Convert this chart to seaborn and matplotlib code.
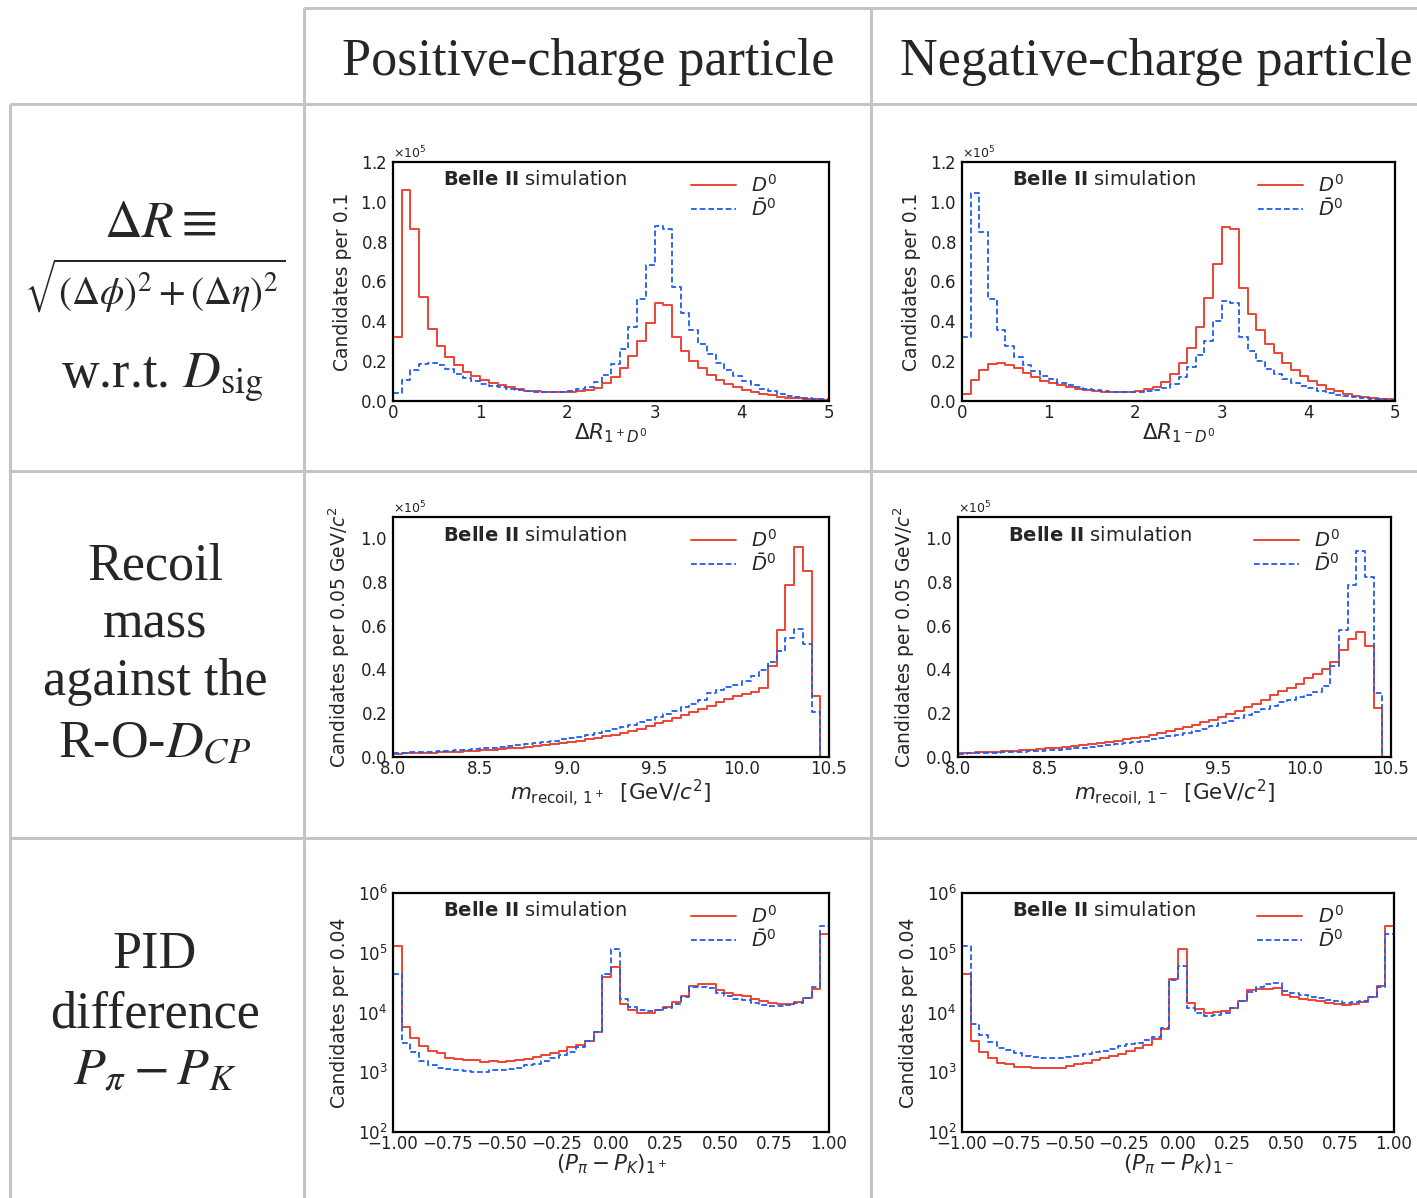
import numpy as np
import matplotlib
matplotlib.use("Agg")
import matplotlib.pyplot as plt
import seaborn as sns
from matplotlib.ticker import AutoMinorLocator, MultipleLocator, ScalarFormatter, LogLocator, NullFormatter

# ---------------- data ----------------
# Delta R (bins of 0.1 from 0 to 5), in units of 1e5 candidates
dr_range = (0.0, 5.0)
dr_pos_D0 = [0.32, 1.06, 0.865, 0.52, 0.36, 0.275, 0.22, 0.18, 0.145, 0.125,
             0.105, 0.09, 0.078, 0.068, 0.058, 0.052, 0.048, 0.045, 0.044, 0.045,
             0.047, 0.05, 0.055, 0.065, 0.09, 0.12, 0.165, 0.225, 0.30, 0.39,
             0.49, 0.48, 0.32, 0.25, 0.20, 0.165, 0.13, 0.105, 0.085, 0.07,
             0.055, 0.045, 0.035, 0.028, 0.022, 0.017, 0.013, 0.01, 0.008, 0.006]
dr_pos_D0bar = [0.04, 0.105, 0.155, 0.185, 0.19, 0.18, 0.16, 0.135, 0.115, 0.10,
                0.085, 0.075, 0.068, 0.06, 0.054, 0.05, 0.046, 0.044, 0.044, 0.046,
                0.05, 0.058, 0.07, 0.095, 0.13, 0.185, 0.26, 0.37, 0.51, 0.685,
                0.88, 0.865, 0.57, 0.44, 0.355, 0.285, 0.235, 0.19, 0.155, 0.125,
                0.10, 0.08, 0.062, 0.048, 0.036, 0.027, 0.02, 0.015, 0.011, 0.008]
dr_neg_D0 = [0.035, 0.105, 0.155, 0.185, 0.19, 0.18, 0.165, 0.14, 0.12, 0.10,
             0.09, 0.08, 0.07, 0.062, 0.056, 0.05, 0.047, 0.045, 0.044, 0.046,
             0.05, 0.058, 0.07, 0.095, 0.135, 0.19, 0.265, 0.37, 0.515, 0.69,
             0.875, 0.865, 0.565, 0.435, 0.355, 0.285, 0.24, 0.19, 0.155, 0.125,
             0.10, 0.08, 0.062, 0.048, 0.036, 0.027, 0.02, 0.015, 0.011, 0.008]
dr_neg_D0bar = [0.32, 1.045, 0.85, 0.51, 0.355, 0.275, 0.22, 0.18, 0.15, 0.125,
                0.11, 0.09, 0.078, 0.068, 0.058, 0.053, 0.048, 0.045, 0.044, 0.044,
                0.046, 0.05, 0.055, 0.065, 0.085, 0.12, 0.17, 0.23, 0.30, 0.40,
                0.50, 0.49, 0.32, 0.25, 0.20, 0.16, 0.135, 0.11, 0.09, 0.075,
                0.065, 0.05, 0.04, 0.032, 0.025, 0.02, 0.015, 0.011, 0.008, 0.006]

# Recoil mass (bins of 0.05 GeV/c^2 from 8.0 to 10.5), in units of 1e5
rec_range = (8.0, 10.5)
rec_pos_D0 = [0.015, 0.016, 0.017, 0.018, 0.019, 0.021, 0.022, 0.024, 0.026, 0.028,
              0.030, 0.033, 0.036, 0.039, 0.042, 0.046, 0.050, 0.054, 0.058, 0.063,
              0.068, 0.074, 0.080, 0.087, 0.094, 0.102, 0.111, 0.120, 0.130, 0.141,
              0.153, 0.165, 0.178, 0.190, 0.205, 0.220, 0.235, 0.250, 0.265, 0.278,
              0.288, 0.296, 0.317, 0.415, 0.580, 0.785, 0.960, 0.848, 0.278, 0.0]
rec_pos_D0bar = [0.018, 0.019, 0.021, 0.022, 0.024, 0.026, 0.028, 0.030, 0.033, 0.036,
                 0.039, 0.042, 0.046, 0.050, 0.054, 0.058, 0.063, 0.068, 0.074, 0.080,
                 0.086, 0.093, 0.100, 0.108, 0.117, 0.126, 0.136, 0.147, 0.159, 0.171,
                 0.184, 0.198, 0.212, 0.227, 0.243, 0.260, 0.290, 0.305, 0.318, 0.330,
                 0.345, 0.370, 0.397, 0.435, 0.486, 0.543, 0.583, 0.517, 0.207, 0.0]
rec_neg_D0 = [0.018, 0.019, 0.021, 0.022, 0.024, 0.026, 0.028, 0.030, 0.033, 0.036,
              0.039, 0.042, 0.046, 0.050, 0.054, 0.058, 0.063, 0.068, 0.074, 0.080,
              0.086, 0.093, 0.100, 0.108, 0.117, 0.126, 0.136, 0.147, 0.159, 0.171,
              0.184, 0.198, 0.212, 0.227, 0.243, 0.260, 0.285, 0.300, 0.315, 0.335,
              0.360, 0.380, 0.400, 0.435, 0.488, 0.540, 0.570, 0.505, 0.222, 0.0]
rec_neg_D0bar = [0.015, 0.016, 0.017, 0.018, 0.019, 0.021, 0.022, 0.024, 0.026, 0.028,
                 0.030, 0.033, 0.036, 0.039, 0.042, 0.046, 0.050, 0.054, 0.058, 0.063,
                 0.068, 0.074, 0.080, 0.087, 0.094, 0.102, 0.111, 0.120, 0.130, 0.141,
                 0.153, 0.165, 0.178, 0.190, 0.205, 0.220, 0.235, 0.250, 0.262, 0.272,
                 0.285, 0.295, 0.325, 0.417, 0.578, 0.787, 0.943, 0.824, 0.291, 0.0]

# PID difference (bins of 0.04 from -1 to 1), candidates
pid_range = (-1.0, 1.0)
pid_pos_D0 = [1.28e5, 5.7e3, 3.8e3, 2.8e3, 2.25e3, 2.08e3, 1.76e3, 1.69e3, 1.61e3, 1.6e3,
              1.5e3, 1.53e3, 1.49e3, 1.53e3, 1.6e3, 1.69e3, 1.78e3, 1.98e3, 2.14e3, 2.3e3,
              2.6e3, 2.85e3, 3.3e3, 4.7e3, 4.0e4, 5.7e4, 1.38e4, 1.1e4, 1.0e4, 1.0e4,
              1.1e4, 1.26e4, 1.49e4, 1.9e4, 2.76e4, 3.0e4, 3.0e4, 2.34e4, 2.1e4, 1.98e4,
              1.88e4, 1.7e4, 1.53e4, 1.42e4, 1.38e4, 1.4e4, 1.48e4, 1.75e4, 2.45e4, 2.05e5]
pid_pos_D0bar = [4.45e4, 3.1e3, 2.16e3, 1.57e3, 1.33e3, 1.17e3, 1.14e3, 1.08e3, 1.03e3, 1.0e3,
                 1.0e3, 1.1e3, 1.07e3, 1.12e3, 1.2e3, 1.3e3, 1.38e3, 1.52e3, 1.7e3, 1.95e3,
                 2.2e3, 2.65e3, 3.3e3, 4.7e3, 4.4e4, 1.15e5, 1.67e4, 1.26e4, 1.1e4, 1.08e4,
                 1.1e4, 1.18e4, 1.4e4, 1.85e4, 2.65e4, 2.65e4, 2.55e4, 2.1e4, 1.88e4, 1.7e4,
                 1.6e4, 1.43e4, 1.33e4, 1.3e4, 1.3e4, 1.34e4, 1.46e4, 1.75e4, 2.65e4, 2.76e5]
pid_neg_D0 = [4.4e4, 3.35e3, 2.2e3, 1.74e3, 1.45e3, 1.36e3, 1.23e3, 1.21e3, 1.17e3, 1.16e3,
              1.17e3, 1.2e3, 1.28e3, 1.36e3, 1.45e3, 1.6e3, 1.75e3, 1.9e3, 2.05e3, 2.3e3,
              2.55e3, 2.9e3, 3.6e3, 5.2e3, 3.7e4, 1.17e5, 1.47e4, 1.15e4, 1.0e4, 1.02e4,
              1.08e4, 1.18e4, 1.57e4, 2.34e4, 2.45e4, 2.5e4, 2.55e4, 1.98e4, 1.8e4, 1.7e4,
              1.63e4, 1.53e4, 1.47e4, 1.4e4, 1.34e4, 1.4e4, 1.49e4, 1.85e4, 2.8e4, 2.76e5]
pid_neg_D0bar = [1.28e5, 6.4e3, 4.25e3, 3.2e3, 2.56e3, 2.37e3, 2.1e3, 1.85e3, 1.8e3, 1.76e3,
                 1.74e3, 1.76e3, 1.8e3, 1.85e3, 2.0e3, 2.15e3, 2.3e3, 2.45e3, 2.7e3, 2.95e3,
                 3.1e3, 3.4e3, 3.9e3, 5.4e3, 3.5e4, 5.9e4, 1.17e4, 9.7e3, 8.8e3, 9.0e3,
                 1.0e4, 1.2e4, 1.57e4, 2.2e4, 2.65e4, 2.98e4, 3.15e4, 2.3e4, 2.08e4, 1.98e4,
                 1.85e4, 1.75e4, 1.65e4, 1.53e4, 1.47e4, 1.5e4, 1.57e4, 1.85e4, 2.65e4, 2.05e5]

col_headers = ["Positive-charge particle", "Negative-charge particle"]
legend_labels = [r"$D^0$", r"$\bar{D}^0$"]
xlabels = {
    "dr": [r"$\Delta R_{1^+D^0}$", r"$\Delta R_{1^-D^0}$"],
    "rec": [r"$m_{\mathrm{recoil},\,1^+}$  [GeV/$c^2$]", r"$m_{\mathrm{recoil},\,1^-}$  [GeV/$c^2$]"],
    "pid": [r"$(P_\pi - P_K)_{1^+}$", r"$(P_\pi - P_K)_{1^-}$"],
}
ylabels = {"dr": "Candidates per 0.1",
           "rec": r"Candidates per 0.05 GeV/$c^2$",
           "pid": "Candidates per 0.04"}

# ---------------- style ----------------
sns.set_style("white")
plt.rcParams["font.family"] = ["DejaVu Sans"]
plt.rcParams["mathtext.fontset"] = "dejavusans"

RED = "#ee4433"
BLUE = "#1f5cf0"
GRID = "#c4c4c4"
W, H = 1417, 1198
fig = plt.figure(figsize=(W / 100, H / 100), dpi=100)

# table background (pixel coordinates)
bg = fig.add_axes([0, 0, 1, 1])
bg.set_xlim(0, W)
bg.set_ylim(H, 0)
bg.axis("off")
lw_grid = 2.2
for (x0, x1, y) in [(304, W, 8), (10, W, 104), (10, W, 471), (10, W, 838)]:
    bg.plot([x0, x1], [y, y], color=GRID, lw=lw_grid, solid_capstyle="butt")
for (x, y0) in [(10, 104), (304, 8), (871, 8)]:
    bg.plot([x, x], [y0, H], color=GRID, lw=lw_grid, solid_capstyle="butt")

SERIF = ["Liberation Serif", "DejaVu Serif"]
hdr_fs = 37.5
bg.text(588, 75, col_headers[0], fontsize=hdr_fs, family=SERIF, ha="center", va="baseline")
bg.text(1156, 75, col_headers[1], fontsize=hdr_fs, family=SERIF, ha="center", va="baseline")

lfs = 37.5
def ltxt(x, y, s, fs=lfs):
    bg.text(x, y, s, fontsize=fs, family=SERIF, ha="center", va="baseline", math_fontfamily="stix")

ltxt(160, 237, r"$\Delta R \equiv$")
ltxt(155, 305, r"$\sqrt{(\Delta\phi)^2 + (\Delta\eta)^2}$", fs=28)
ltxt(162, 388, r"w.r.t. $D_{\mathrm{sig}}$")
ltxt(155, 580, "Recoil")
ltxt(155, 638, "mass")
ltxt(155, 695, "against the")
ltxt(155, 758, r"R-O-$D_{CP}$")
ltxt(155, 968, "PID")
ltxt(155, 1027, "difference")
ltxt(155, 1085, r"$P_\pi - P_K$")

# ---------------- panels ----------------
def px_axes(x0, y0, x1, y1):
    return fig.add_axes([x0 / W, 1 - y1 / H, (x1 - x0) / W, (y1 - y0) / H])

def draw(ax, rng, d0, d0bar, scale, kind, col):
    n = len(d0)
    edges = np.linspace(rng[0], rng[1], n + 1)
    centers = 0.5 * (edges[:-1] + edges[1:])
    edge_list = [float(e) for e in edges]
    sns.histplot(x=centers, weights=np.asarray(d0) * scale, bins=edge_list, element="step",
                 fill=False, color=RED, linewidth=1.4, ax=ax, label=legend_labels[0])
    sns.histplot(x=centers, weights=np.asarray(d0bar) * scale, bins=edge_list, element="step",
                 fill=False, color=BLUE, linewidth=1.3, linestyle=(0, (3.2, 1.6)), ax=ax,
                 label=legend_labels[1])
    ax.set_xlim(*rng)
    for sp in ax.spines.values():
        sp.set_linewidth(1.6)
        sp.set_color("black")
        sp.set_visible(True)
    ax.tick_params(which="both", direction="in", top=False, right=False,
                   labelsize=12, colors="#222222")
    ax.tick_params(axis="x", pad=2)
    ax.tick_params(axis="y", pad=4)
    ax.tick_params(which="major", length=6, width=1.0, color="#777777")
    ax.tick_params(which="minor", length=3, width=0.8, color="#999999")
    if kind == "pid":
        ax.set_yscale("log")
        ax.set_ylim(1e2, 1e6)
        ax.xaxis.set_major_locator(MultipleLocator(0.25))
        ax.xaxis.set_minor_locator(MultipleLocator(0.05))
        ax.yaxis.set_major_locator(LogLocator(base=10, numticks=10))
        ax.yaxis.set_minor_locator(LogLocator(base=10, subs=np.arange(2, 10), numticks=10))
        ax.yaxis.set_minor_formatter(NullFormatter())
    else:
        ax.set_ylim(0, 1.2e5 if kind == "dr" else 1.096e5)
        ax.yaxis.set_major_locator(MultipleLocator(0.2e5))
        ax.yaxis.set_minor_locator(AutoMinorLocator(4))
        fmt = ScalarFormatter(useMathText=True)
        fmt.set_powerlimits((0, 0))
        ax.yaxis.set_major_formatter(fmt)
        ax.yaxis.get_offset_text().set_fontsize(9)
        if kind == "dr":
            ax.xaxis.set_major_locator(MultipleLocator(1))
            ax.xaxis.set_minor_locator(MultipleLocator(0.2))
        else:
            ax.xaxis.set_major_locator(MultipleLocator(0.5))
            ax.xaxis.set_minor_locator(MultipleLocator(0.1))
    ax.set_xlabel(xlabels[kind][col], fontsize=15.5, labelpad=0)
    ax.set_ylabel(ylabels[kind], fontsize=13.5, labelpad=6)
    ax.text(0.115, 0.925, r"$\mathbf{Belle\ II}$ simulation", transform=ax.transAxes,
            fontsize=14, va="center", ha="left")
    ax.legend(loc="upper left", bbox_to_anchor=(0.675, 0.965), frameon=False, fontsize=14,
              handlelength=2.3, handletextpad=0.8, labelspacing=0.1, borderaxespad=0,
              borderpad=0.2)

ax1 = px_axes(393, 162, 829, 401)
draw(ax1, dr_range, dr_pos_D0, dr_pos_D0bar, 1e5, "dr", 0)
ax2 = px_axes(962, 162, 1395, 401)
draw(ax2, dr_range, dr_neg_D0, dr_neg_D0bar, 1e5, "dr", 1)
ax3 = px_axes(393, 517, 829, 757)
draw(ax3, rec_range, rec_pos_D0, rec_pos_D0bar, 1e5, "rec", 0)
ax4 = px_axes(958, 517, 1391, 757)
draw(ax4, rec_range, rec_neg_D0, rec_neg_D0bar, 1e5, "rec", 1)
ax5 = px_axes(393, 893, 829, 1132)
draw(ax5, pid_range, pid_pos_D0, pid_pos_D0bar, 1.0, "pid", 0)
ax6 = px_axes(962, 893, 1394, 1132)
draw(ax6, pid_range, pid_neg_D0, pid_neg_D0bar, 1.0, "pid", 1)

fig.savefig("out.png", dpi=100)
